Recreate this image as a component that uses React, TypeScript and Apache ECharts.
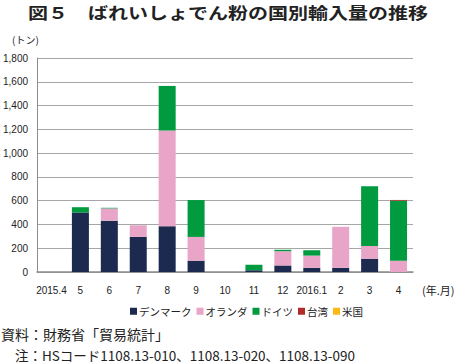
import React, { useEffect, useRef } from "react";
import * as echarts from "echarts";

const categories = ["2015.4", "5", "6", "7", "8", "9", "10", "11", "12", "2016.1", "2", "3", "4"];
const seriesNames = ["デンマーク", "オランダ", "ドイツ", "台湾", "米国"];
const denmark = [0, 500, 432, 295, 385, 95, 0, 15, 55, 35, 35, 112, 0];
const netherlands = [0, 0, 103, 98, 805, 200, 0, 0, 120, 103, 345, 107, 95];
const germany = [0, 45, 5, 0, 375, 310, 0, 47, 12, 45, 0, 502, 505];
const taiwan = [0, 0, 0, 0, 0, 0, 0, 0, 0, 0, 0, 0, 6];
const usa = [0, 0, 0, 0, 0, 0, 0, 0, 0, 0, 0, 0, 0];
const colors = ["#1B2A4E", "#E8A5C8", "#009B3E", "#B22B2B", "#FDB913"];

const FONT = "'Liberation Sans', 'Noto Sans CJK JP', sans-serif";
const JFONT = "'Noto Sans CJK JP', sans-serif";

export default function App() {
  const ref = useRef<HTMLDivElement>(null);
  useEffect(() => {
    if (!ref.current) return;
    const chart = echarts.init(ref.current, undefined, { renderer: "svg" });
    const datas = [denmark, netherlands, germany, taiwan, usa];
    chart.setOption({
      animation: false,
      backgroundColor: "#ffffff",
      grid: { left: 35, right: 42, top: 58, bottom: 92 },
      legend: {
        data: seriesNames,
        top: 301,
        left: 125,
        icon: "rect",
        itemWidth: 7,
        itemHeight: 7,
        itemGap: 5,
        textStyle: { fontFamily: JFONT, fontSize: 10.5, color: "#222", padding: [0, 0, 0, -3] },
      },
      xAxis: {
        type: "category",
        data: categories,
        axisLine: { lineStyle: { color: "#8C8C8C", width: 1.5 } },
        axisTick: { show: false },
        axisLabel: { interval: 0, margin: 13, fontFamily: FONT, fontSize: 10, color: "#222" },
      },
      yAxis: {
        type: "value",
        min: 0,
        max: 1800,
        interval: 200,
        axisLine: { show: true, lineStyle: { color: "#8C8C8C", width: 1 } },
        axisTick: { show: false },
        axisLabel: {
          margin: 9,
          fontFamily: FONT,
          fontSize: 10,
          color: "#222",
          formatter: (v: number) => v.toLocaleString("en-US"),
        },
        splitLine: { lineStyle: { color: "#A6A6A6", width: 1 } },
      },
      series: seriesNames.map((name, i) => ({
        name,
        type: "bar",
        stack: "total",
        barWidth: 17,
        data: datas[i],
        itemStyle: { color: colors[i] },
      })),
      graphic: [
        {
          type: "text",
          x: 28,
          y: 12,
          scaleX: 1.25,
          style: {
            text: "図５　ばれいしょでん粉の国別輸入量の推移",
            fontFamily: JFONT,
            fontSize: 16,
            fontWeight: "bold",
            fill: "#222",
            textVerticalAlign: "middle",
          },
        },
        { type: "text", left: 12, top: 34, style: { text: "(トン)", fontFamily: JFONT, fontSize: 10, fill: "#222" } },
        { type: "text", left: 422, top: 284, style: { text: "(年.月)", fontFamily: JFONT, fontSize: 11, fill: "#222" } },
        {
          type: "text",
          x: 1,
          y: 334,
          style: { text: "資料：財務省「貿易統計」", fontFamily: JFONT, fontSize: 14, fill: "#222", textVerticalAlign: "middle" },
        },
        {
          type: "text",
          x: 15,
          y: 355,
          style: {
            text: "注：HSコード1108.13-010、1108.13-020、1108.13-090",
            fontFamily: JFONT,
            fontSize: 13.5,
            fill: "#222",
            textVerticalAlign: "middle",
          },
        },
      ],
    });
    return () => chart.dispose();
  }, []);
  return <div ref={ref} style={{ position: "fixed", left: 0, top: 0, width: 455, height: 364 }} />;
}
